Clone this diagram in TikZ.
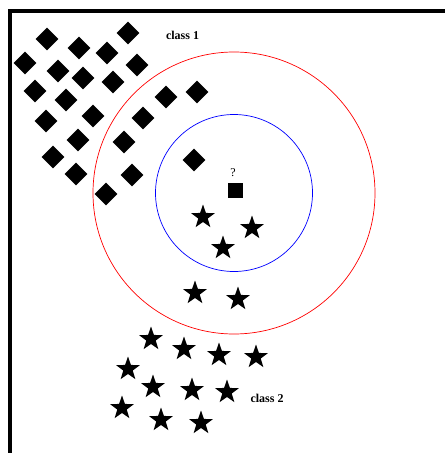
\documentclass[tikz,border=0pt]{standalone}
\usepackage{fontspec}
\setmainfont{Liberation Serif}
\usetikzlibrary{shapes.geometric}
\begin{document}
\begin{tikzpicture}[x=1pt,y=-1pt,
    knnDiamond/.style={diamond,fill=black,inner sep=0pt,minimum size=23pt},
    knnStar/.style={star,star points=5,star point ratio=2.5,fill=black,inner sep=0pt,minimum size=25pt},
    knnQuery/.style={rectangle,fill=black,inner sep=0pt,minimum size=15pt},
    knnLabel/.style={font=\bfseries\fontsize{12}{14}\selectfont},
]
\useasboundingbox (0,0) rectangle (445,453);
% Frame
\draw[line width=4pt] (9.5,453) -- (9.5,11) -- (445,11);
% Neighbourhoods
\coordinate (centre) at (234,193);
\draw[red, line width=0.7pt] (centre) circle (141);
\draw[blue, line width=0.7pt] (centre) circle (78.5);
% Class 1
\foreach \px/\py [count=\i] in {47/39, 128/33, 79/48, 107/53, 25/63, 58/71, 83/78,
    113/82, 137/65, 35/91, 66/100, 93/116, 46/121, 166/97, 197/92, 143/118,
    78/140, 124/142, 53/157, 76/174, 132/175, 106/194, 194/160}
  \node[knnDiamond] (d\i) at (\px,\py) {};
% Class 2
\foreach \px/\py [count=\i] in {203/217, 252/228, 223/248, 195/293, 238/299,
    151/339, 184/349, 219/355, 256/357, 128/369, 153/387, 192/390, 227/392,
    122/408, 161/420, 201/423}
  \node[knnStar] (s\i) at (\px,\py) {};
% Query point
\node[knnQuery] (query) at (235,190) {};
\node[font=\fontsize{12}{13}\selectfont] (qmark) at (233,173) {?};
% Labels
\node[knnLabel] (lblA) at (182.5,35.5) {class 1};
\node[knnLabel] (lblB) at (267,398) {class 2};
\end{tikzpicture}
\end{document}
